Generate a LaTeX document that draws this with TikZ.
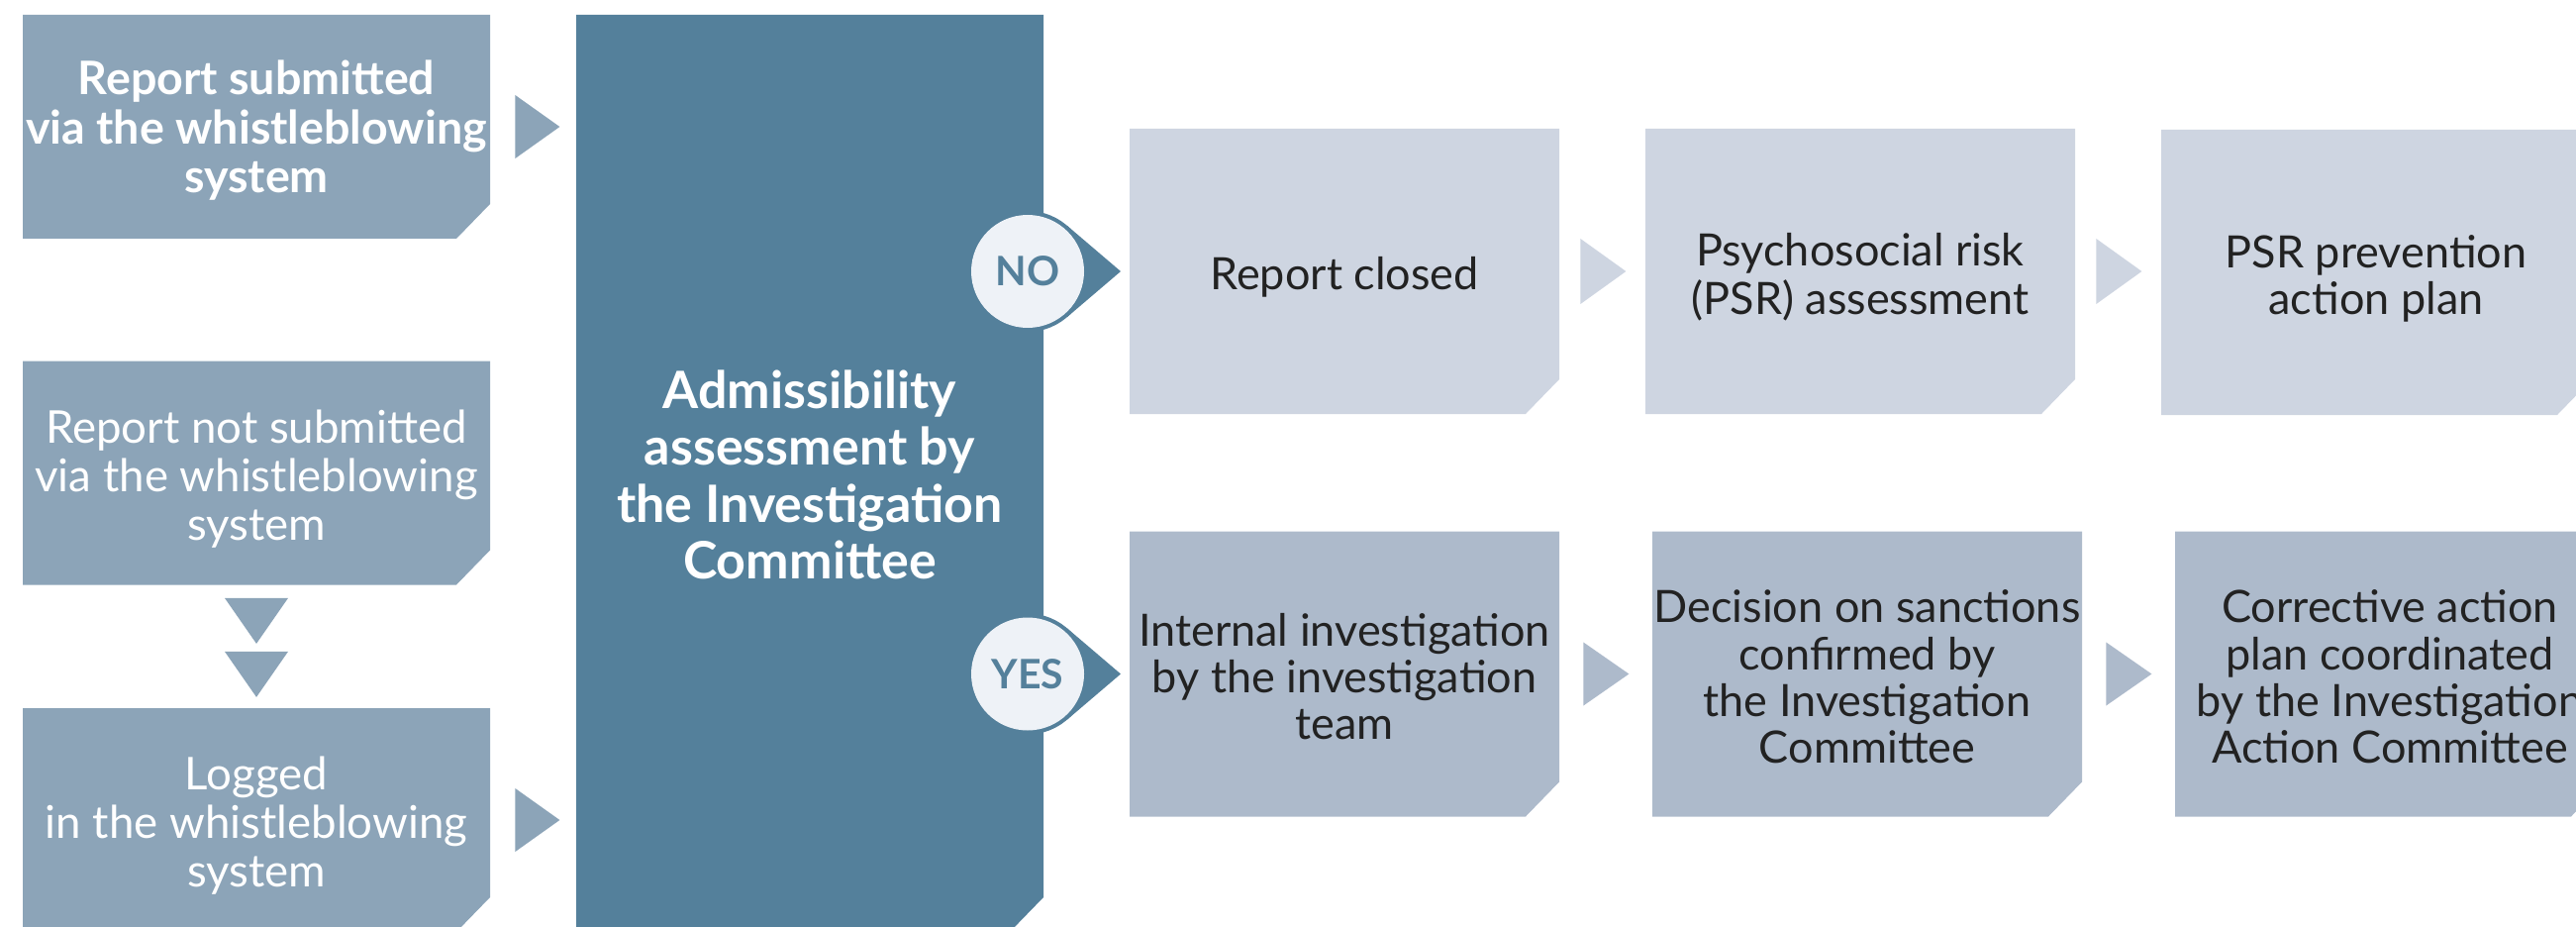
\documentclass[tikz,border=0pt]{standalone}
\usepackage{fontspec}
\setmainfont{Lato}
\usetikzlibrary{calc}

\definecolor{cSide}{HTML}{8CA4B8}
\definecolor{cMain}{HTML}{54809B}
\definecolor{cNo}{HTML}{CED5E1}
\definecolor{cYes}{HTML}{ADBACB}
\definecolor{cBadge}{HTML}{EEF2F7}
\definecolor{cInk}{HTML}{222222}

% centred block of lines, lowered by #1 without changing its reported size
\newcommand\lowtext[2]{\raisebox{-#1}[\height][\depth]{\begin{tabular}{@{}c@{}}#2\end{tabular}}}

\tikzset{
  % rectangle whose south-east corner is cut off
  cutbox/.style={rectangle, inner sep=0pt, align=center,
    path picture={\fill[#1]
      (path picture bounding box.north west) --
      (path picture bounding box.north east) --
      ([yshift=17.5pt]path picture bounding box.south east) --
      ([xshift=-17pt]path picture bounding box.south east) --
      (path picture bounding box.south west) -- cycle;}},
  leftbox/.style={cutbox=cSide, minimum width=236pt, minimum height=113pt,
    text=white, font=\fontsize{22.8}{24.5}\selectfont},
  mainstep/.style={cutbox=cMain, minimum width=236pt, minimum height=463pt,
    text=white, font=\bfseries\fontsize{26}{28.75}\selectfont},
  nobox/.style={cutbox=cNo, minimum width=217pt, minimum height=144pt,
    text=cInk, font=\fontsize{22.5}{23.4}\selectfont},
  yesbox/.style={cutbox=cYes, minimum width=217pt, minimum height=144pt,
    text=cInk, font=\fontsize{22.5}{23.4}\selectfont},
  badge/.style={circle, fill=cBadge, minimum size=57pt, inner sep=0pt,
    text=cMain, font=\bfseries\fontsize{20.5}{20.5}\selectfont},
}

\begin{document}
\begin{tikzpicture}[x=0.5pt, y=-0.5pt]
  \useasboundingbox (0,0) rectangle (2602,936);
  \clip (0,0) rectangle (2602,936);

  % left column: incoming reports
  \node[leftbox, font=\bfseries\fontsize{23.3}{24.5}\selectfont] (sub) at (259,128)
    {\lowtext{3.6pt}{Report submitted\\via the whistleblowing\\system}};
  \node[leftbox] (notsub) at (259,477.5)
    {\lowtext{4.8pt}{Report not submitted\\via the whistleblowing\\system}};
  \node[leftbox] (logged) at (259,828)
    {\lowtext{4.5pt}{Logged\\in the whistleblowing\\system}};

  % central assessment column
  \node[mainstep] (adm) at (818,478)
    {\lowtext{4.5pt}{Admissibility\\assessment by\\the Investigation\\Committee}};

  % outcome: not admissible
  \node[nobox] (closed) at (1358,274) {\lowtext{4.7pt}{Report closed}};
  \node[nobox] (psr) at (1879,274) {\lowtext{4.7pt}{Psychosocial risk\\(PSR) assessment}};
  \node[nobox] (prev) at (2400,275) {\lowtext{4.7pt}{PSR prevention\\action plan}};

  % outcome: admissible
  \node[yesbox] (inv) at (1358,680.5)
    {\lowtext{4.8pt}{Internal investigation\\by the investigation\\team}};
  \node[yesbox] (dec) at (1886,680.5)
    {\lowtext{4.8pt}{Decision on sanctions\\confirmed by\\the Investigation\\Committee}};
  \node[yesbox] (cor) at (2414,680.5)
    {\lowtext{4.8pt}{Corrective action\\plan coordinated\\by the Investigation\\Action Committee}};

  % triangular flow markers
  \fill[cSide] ($(sub.east)+(25,-32)$) -- ($(sub.east)+(25,32)$) -- ($(sub.east)+(70,0)$) -- cycle;
  \fill[cSide] ($(logged.east)+(25,-32)$) -- ($(logged.east)+(25,32)$) -- ($(logged.east)+(70,0)$) -- cycle;
  \fill[cSide] ($(notsub.south)+(-32,13)$) -- ($(notsub.south)+(32,13)$) -- ($(notsub.south)+(0,59)$) -- cycle;
  \fill[cSide] ($(notsub.south)+(-32,67)$) -- ($(notsub.south)+(32,67)$) -- ($(notsub.south)+(0,113)$) -- cycle;

  \fill[cNo] ($(closed.east)+(21,-33)$) -- ($(closed.east)+(21,33)$) -- ($(closed.east)+(67,0)$) -- cycle;
  \fill[cNo] ($(psr.east)+(21,-33)$) -- ($(psr.east)+(21,33)$) -- ($(psr.east)+(67,0)$) -- cycle;
  \fill[cYes] ($(inv.east)+(24,-32)$) -- ($(inv.east)+(24,32)$) -- ($(inv.east)+(70,0)$) -- cycle;
  \fill[cYes] ($(dec.east)+(24,-32)$) -- ($(dec.east)+(24,32)$) -- ($(dec.east)+(70,0)$) -- cycle;

  % decision badges on the edge of the assessment column
  \foreach \c/\lbl/\nm in {274/NO/no, 680.5/YES/yes}{
    \coordinate (\nm c) at (1038,\c);
    \fill[cMain] (\nm c) circle[radius=30.5pt];
    \fill[cMain] ($(\nm c)+(49.5:30.5pt)$) -- ($(\nm c)+(47pt,0pt)$)
      -- ($(\nm c)+(-49.5:30.5pt)$) -- cycle;
    \node[badge] (\nm) at (\nm c) {\lbl};
  }
\end{tikzpicture}
\end{document}
